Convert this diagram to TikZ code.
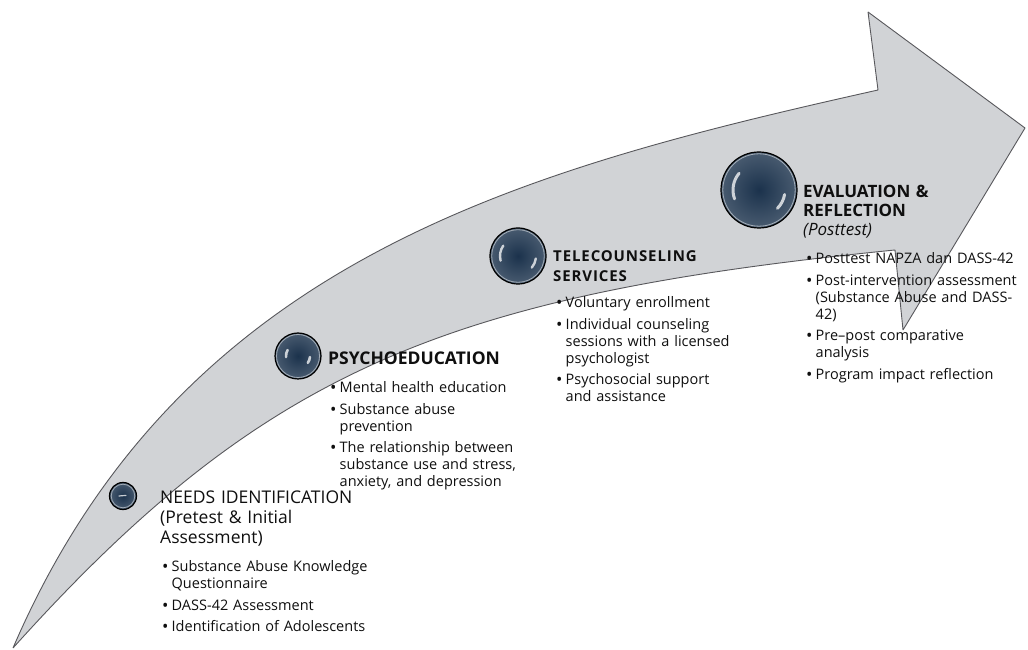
\documentclass[tikz,border=0pt]{standalone}
\usepackage{fontspec}
\setmainfont{Open Sans}
\usetikzlibrary{calc}
\usetikzlibrary{arrows}
\usetikzlibrary{shapes}

\definecolor{arrowfill}{RGB}{209,211,214}
\definecolor{arrowline}{RGB}{88,88,92}
\definecolor{ballcol}{RGB}{27,50,76}
\definecolor{inkcol}{RGB}{15,15,15}

\newcommand{\headfont}{\fontsize{17.5bp}{20bp}\selectfont}
\newcommand{\listfont}{\fontsize{14.5bp}{17bp}\selectfont}
\newcommand{\stepbullet}{\raisebox{-1bp}{\fontsize{17bp}{17bp}\selectfont\textbullet}}
\newcommand{\stepitem}[1]{{\let\\\newline\hangindent=9.5bp\hangafter=1\noindent\makebox[9.5bp][l]{\stepbullet}#1\par}}

\begin{document}
\begin{tikzpicture}[line join=bevel,
    ball/.style={circle,draw=black,line width=1.2bp,inner sep=0pt,
        shading=radial,inner color=ballcol,outer color=ballcol!80!white},
    ballrim/.style={draw=white!60!ballcol,line width=0.8bp},
    ballshine/.style={draw=white,opacity=0.75,line cap=round},
    steptitle/.style={anchor=base west,inner sep=0pt,text width=240bp,align=left,
        font=\headfont,text=inkcol},
    steplist/.style={anchor=base west,inner sep=0pt,text width=260bp,align=left,
        font=\listfont,text=inkcol,execute at begin node={\setlength{\parskip}{4.5bp}}}]
    \useasboundingbox (0bp,0bp) rectangle (1028bp,650bp);
    %%
    % Arrow
    \begin{scope}
        \filldraw [fill=arrowfill,draw=arrowline,line width=0.9bp]
            (13bp,2bp) .. controls (180bp,390bp) and (520bp,480bp) .. (878bp,560bp)
            -- (868bp,638bp) -- (1025bp,522bp) -- (903bp,320bp) -- (895bp,400bp)
            .. controls (445bp,355bp) and (263bp,280bp) .. (13bp,2bp) -- cycle;
    \end{scope}
    % Node: needsball
    \begin{scope}
        \node [ball,minimum size=27bp] (needsball) at (123bp,154bp) {};
        \draw [ballrim] (needsball.center) circle (11.8bp);
        \draw [ballshine,line width=1.2bp] ($(needsball.center)+(-4bp,0bp)$) -- ($(needsball.center)+(3bp,0.6bp)$);
    \end{scope}
    % Node: psyball
    \begin{scope}
        \node [ball,minimum size=46bp] (psyball) at (298bp,294bp) {};
        \draw [ballrim] (psyball.center) circle (21.5bp);
        \draw [ballshine,line width=2.6bp] ($(psyball.center)+(150:12bp)$) arc (150:185:12bp);
        \draw [ballshine,line width=2.6bp] ($(psyball.center)+(-35:12bp)$) arc (-35:-5:12bp);
    \end{scope}
    % Node: teleball
    \begin{scope}
        \node [ball,minimum size=56bp] (teleball) at (518bp,394bp) {};
        \draw [ballrim] (teleball.center) circle (26.3bp);
        \draw [ballshine,line width=2.4bp] ($(teleball.center)+(145:18bp)$) arc (145:195:18bp);
        \draw [ballshine,line width=2.4bp] ($(teleball.center)+(-40:18bp)$) arc (-40:-8:18bp);
    \end{scope}
    % Node: evalball
    \begin{scope}
        \node [ball,minimum size=76bp] (evalball) at (759bp,460bp) {};
        \draw [ballrim] (evalball.center) circle (36.2bp);
        \draw [ballshine,line width=3bp] ($(evalball.center)+(140:26bp)$) arc (140:200:26bp);
        \draw [ballshine,line width=3bp] ($(evalball.center)+(-45:26bp)$) arc (-45:-10:26bp);
    \end{scope}
    %
    % Node: needshead
    \node [steptitle] (needshead) at (160bp,146bp) {NEEDS IDENTIFICATION\\(Pretest \& Initial\\Assessment)};
    \node [steplist] (needslist) at (162bp,78bp) {\stepitem{Substance Abuse Knowledge\\Questionnaire}\stepitem{DASS-42 Assessment}\stepitem{Identification of Adolescents}};
    % Node: psyhead
    \node [steptitle] (psyhead) at (328bp,285bp) {\bfseries PSYCHOEDUCATION};
    \node [steplist] (psylist) at (330bp,257bp) {\stepitem{Mental health education}\stepitem{Substance abuse\\prevention}\stepitem{The relationship between\\substance use and stress,\\anxiety, and depression}};
    % Node: telehead
    \node [steptitle,font=\fontsize{15bp}{20bp}\selectfont\bfseries\addfontfeatures{LetterSpace=6}] (telehead) at (553bp,388bp) {TELECOUNSELING\\SERVICES};
    \node [steplist] (telelist) at (556bp,342bp) {\stepitem{Voluntary enrollment}\stepitem{Individual counseling\\sessions with a licensed\\psychologist}\stepitem{Psychosocial support\\and assistance}};
    % Node: evalhead
    \node [steptitle,font=\fontsize{17bp}{18.5bp}\selectfont] (evalhead) at (803bp,452bp) {\bfseries EVALUATION \&\\\bfseries REFLECTION\\[1bp]\mdseries\itshape (Posttest)};
    \node [steplist] (evallist) at (806bp,386bp) {\stepitem{Posttest NAPZA dan DASS-42}\stepitem{Post-intervention assessment\\(Substance Abuse and DASS-\\42)}\stepitem{Pre–post comparative\\analysis}\stepitem{Program impact reflection}};
    %
\end{tikzpicture}
\end{document}
